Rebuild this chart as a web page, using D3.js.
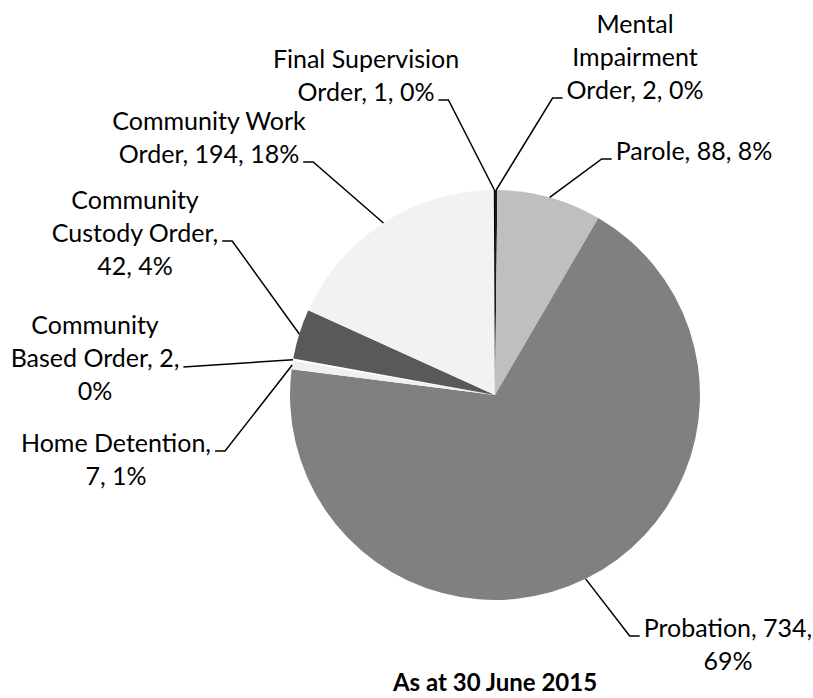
<!DOCTYPE html>
<html>
<head>
<meta charset="utf-8">
<script src="https://cdn.jsdelivr.net/npm/d3@7"></script>
<style>
    body { margin: 0; background: #fff; }
    .LabelText { font-family: Lato, "Open Sans", sans-serif; font-size: 25px; fill: #000; }
    .TitleText { font-family: Lato, "Open Sans", sans-serif; font-size: 24px; font-weight: bold; fill: #000; text-anchor: middle; }
</style>
</head>
<body>
<svg id="SvgContainer"></svg>
<script>
//Data
var categories = ["Mental Impairment Order", "Parole", "Probation", "Home Detention",
    "Community Based Order", "Community Custody Order", "Community Work Order", "Final Supervision Order"];
var counts = [2, 88, 734, 7, 2, 42, 194, 1];
var sliceColors = ["#1a1a1a", "#bfbfbf", "#808080", "#f0f0f0", "#ffffff", "#595959", "#f2f2f2", "#000000"];
var chartTitle = "As at 30 June 2015";

//Layout of the data labels (block centre, first baseline, words per line, leader side)
var labelLayout = [
    {cx: 635, y0: 33, wrap: [1, 1, 3], line: 2, side: "left"},
    {cx: 694, y0: 160, wrap: [3], line: 0, side: "left"},
    {cx: 728, y0: 637, wrap: [2, 1], line: 0, side: "left"},
    {cx: 116, y0: 452, wrap: [2, 2], line: 0, side: "right"},
    {cx: 95, y0: 334, wrap: [1, 3, 1], line: 1, side: "right", longDash: true},
    {cx: 135, y0: 209, wrap: [1, 2, 2], line: 1, side: "right"},
    {cx: 209, y0: 130, wrap: [2, 3], line: 1, side: "right"},
    {cx: 366, y0: 68, wrap: [2, 3], line: 1, side: "right"}
];

var width = 813;
var height = 698;
var centerX = 495;
var centerY = 395;
var radius = 205;
var lineHeight = 33;
var dashLength = 10;
var dashGap = 4;

var svgContainer = d3.select("#SvgContainer")
    .attr("width", width)
    .attr("height", height);

var total = d3.sum(counts);
var data = categories.map(function (c, i) {
    return {name: c, value: counts[i], color: sliceColors[i], layout: labelLayout[i]};
});

var pie = d3.pie()
    .sort(null)
    .value(function (d) { return d.value; });

var arc = d3.arc().innerRadius(0).outerRadius(radius);
var edgeArc = d3.arc().innerRadius(radius).outerRadius(radius);

var arcs = pie(data);

var PieGroup = svgContainer
    .append("g")
    .attr("transform", "translate(" + centerX + "," + centerY + ")");

PieGroup.selectAll("path")
    .data(arcs)
    .enter()
    .append("path")
    .attr("d", arc)
    .attr("fill", function (d) { return d.data.color; });

var LabelGroup = svgContainer.append("g");

arcs.forEach(function (d) {
    var lay = d.data.layout;
    var pct = Math.round(d.data.value / total * 100);
    var words = (d.data.name + ", " + d.data.value + ", " + pct + "%").split(" ");

    var lines = [];
    var k = 0;
    lay.wrap.forEach(function (n) {
        lines.push(words.slice(k, k + n).join(" "));
        k += n;
    });

    var text = LabelGroup.append("text")
        .attr("class", "LabelText")
        .attr("text-anchor", "middle");

    var spans = lines.map(function (l, i) {
        return text.append("tspan")
            .attr("x", lay.cx)
            .attr("y", lay.y0 + i * lineHeight)
            .text(l);
    });

    // leader line: pie edge -> elbow -> short dash next to the text
    var lineWidth = spans[lay.line].node().getComputedTextLength();
    var dashY = lay.y0 + lay.line * lineHeight - 1;
    var start = edgeArc.centroid(d);
    start = [start[0] + centerX, start[1] + centerY];
    var endX, elbowX;
    if (lay.side === "left") {
        endX = lay.cx - lineWidth / 2 - dashGap;
        elbowX = endX - dashLength;
    } else {
        endX = lay.cx + lineWidth / 2 + dashGap;
        elbowX = endX + dashLength;
    }
    var points = [start, [elbowX, dashY], [endX, dashY]];
    if (lay.longDash) {
        points = [start, [endX, dashY + 1]];
    }

    LabelGroup.append("path")
        .attr("d", d3.line()(points))
        .attr("fill", "none")
        .attr("stroke", "#000")
        .attr("stroke-width", 1.5);
});

svgContainer.append("text")
    .attr("class", "TitleText")
    .attr("x", centerX)
    .attr("y", 691)
    .text(chartTitle);
</script>
</body>
</html>
